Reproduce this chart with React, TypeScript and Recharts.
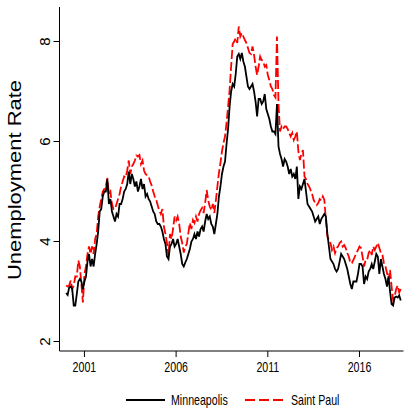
import React from "react";
import { LineChart, Line, XAxis, YAxis, Label } from "recharts";

const START_YEAR = 2000;

const minneapolis: number[] = [
  2.97, 2.93, 3.08, 3.1, 3.05, 2.72, 2.72, 2.95, 3.2, 3.25, 3.2, 3.05,
  3.2, 3.3, 3.6, 3.75, 3.5, 3.65, 3.5, 3.75, 3.95, 4.2, 4.6, 4.65,
  4.9, 5.0, 5.0, 5.25, 4.75, 4.85, 4.6, 4.5, 4.4, 4.55, 4.5, 4.75,
  4.75, 4.85, 5.0, 5.05, 5.15, 5.4, 5.15, 5.35, 5.25, 5.1, 5.2, 5.0,
  5.1, 5.25, 5.05, 5.15, 4.9, 4.95, 4.85, 4.8, 4.7, 4.6, 4.55, 4.4,
  4.35, 4.35, 4.3, 4.2, 4.05, 3.95, 3.7, 3.65, 3.9, 3.95, 4.05, 3.9,
  3.95, 4.05, 3.9, 3.75, 3.55, 3.5, 3.58, 3.65, 3.75, 3.85, 4.0, 4.05,
  4.15, 4.05, 4.2, 4.1, 4.25, 4.3, 4.2, 4.4, 4.55, 4.45, 4.5, 4.35,
  4.3, 4.15, 4.35, 4.55, 4.9, 5.1, 5.35, 5.5, 5.6, 5.95, 6.25, 6.7,
  7.0, 7.15, 7.1, 7.35, 7.7, 7.75, 7.65, 7.77, 7.6, 7.5, 7.3, 7.1,
  7.05, 7.1, 7.15, 7.0, 6.8, 6.5, 6.85, 6.85, 6.75, 6.8, 6.95, 6.65,
  6.55, 6.45, 6.3, 6.2, 6.2, 6.15, 6.75, 5.9, 5.75, 5.65, 5.5, 5.65,
  5.6, 5.5, 5.35, 5.45, 5.3, 5.35, 5.25, 5.5, 4.85, 5.1, 5.05, 5.15,
  5.25, 5.0, 4.75, 4.7, 4.65, 4.6, 4.5, 4.4, 4.45, 4.5, 4.35, 4.45,
  4.5, 4.55, 4.5, 4.15, 3.9, 3.65, 3.6, 3.55, 3.45, 3.4, 3.45, 3.6,
  3.75, 3.7, 3.65, 3.55, 3.45, 3.3, 3.15, 3.05, 3.2, 3.2, 3.2, 3.35,
  3.55, 3.55, 3.5, 3.15, 3.3, 3.25, 3.4, 3.45, 3.55, 3.45, 3.6, 3.75,
  3.7, 3.35, 3.65, 3.5, 3.35, 3.25, 3.1, 3.3, 3.0, 2.75, 2.72, 2.88,
  2.9, 2.88, 2.92, 2.82,
];

const saintPaul: number[] = [
  3.12, 3.1, 3.12, 3.22, 3.05, 3.12, 3.3, 3.3, 3.62, 3.5, 3.15, 2.78,
  3.35, 3.5, 3.75, 3.9, 3.75, 3.9, 3.75, 4.05, 4.15, 4.5, 4.7, 4.85,
  5.0, 5.05, 5.1, 5.27, 4.95, 5.0, 4.75, 4.65, 4.65, 4.75, 4.85, 4.95,
  5.1, 5.2, 5.3, 5.28, 5.42, 5.62, 5.35, 5.5, 5.55, 5.62, 5.72, 5.7,
  5.73, 5.55, 5.62, 5.42, 5.35, 5.32, 5.3, 5.2, 5.12, 5.0, 4.9, 4.83,
  4.72, 4.62, 4.55, 4.65, 4.3, 4.15, 3.97, 3.72, 4.15, 4.05, 4.25, 4.5,
  4.42, 4.5, 4.35, 4.1, 3.97, 3.78, 3.9, 3.95, 4.17, 4.37, 4.25, 4.43,
  4.37, 4.5, 4.4, 4.55, 4.62, 4.67, 4.57, 4.77, 5.03, 4.82, 4.7, 4.63,
  4.75, 4.57, 4.82, 5.1, 5.37, 5.57, 5.8, 5.97, 6.1, 6.37, 6.7, 7.03,
  7.5, 7.95, 8.0, 8.07, 7.97, 8.3, 8.1, 8.17, 8.1, 8.03, 7.97, 7.87,
  7.77, 7.75, 7.9, 7.73, 7.5, 7.33, 7.5, 7.7, 7.63, 7.6, 7.5, 7.53,
  7.33, 7.23, 7.1, 7.05, 6.93, 6.88, 8.1, 6.75, 6.2, 6.3, 6.25, 6.3,
  6.3, 6.25, 6.17, 6.1, 6.17, 6.03, 6.1, 6.2, 5.8, 5.63, 5.75, 5.83,
  5.3, 5.25, 5.15, 5.1, 5.03, 4.95, 4.83, 4.77, 4.73, 4.77, 4.85, 4.82,
  4.9, 4.83, 4.43, 4.1, 4.03, 3.97, 3.83, 3.9, 3.77, 3.87, 3.9, 3.97,
  4.0, 3.9, 3.93, 3.87, 3.77, 3.7, 3.57, 3.57, 3.63, 3.7, 3.77, 3.83,
  3.9, 3.87, 3.7, 3.5, 3.63, 3.63, 3.77, 3.83, 3.73, 3.9, 3.83, 3.9,
  3.97, 3.87, 3.77, 3.73, 3.57, 3.5, 3.37, 3.23, 3.43, 3.1, 2.83, 2.9,
  3.05, 3.12, 2.98, 3.05,
];

const xTicks: number[] = [2001, 2006, 2011, 2016];
const yTicks: number[] = [2, 4, 6, 8];
const seriesNames: string[] = ["Minneapolis", "Saint Paul"];

const data = minneapolis.map((v, i) => ({
  t: START_YEAR + i / 12,
  mpls: v,
  stp: saintPaul[i],
}));

const FONT = "'Liberation Sans', Arial, sans-serif";

const XTick = (props: any) => {
  const { x, y, payload } = props;
  return (
    <g transform={`translate(${x},${y + 12.7})`}>
      <text
        transform="scale(0.76,1)"
        textAnchor="middle"
        fontSize={14}
        fontFamily={FONT}
        fill="#000"
      >
        {payload.value}
      </text>
    </g>
  );
};

const YTick = (props: any) => {
  const { x, y, payload } = props;
  const bx = x - 1.5;
  return (
    <text
      x={bx}
      y={y}
      transform={`rotate(-90, ${bx}, ${y})`}
      textAnchor="middle"
      fontSize={15}
      fontFamily={FONT}
      fill="#000"
    >
      {payload.value}
    </text>
  );
};

const YLabel = () => (
  <text
    x={21}
    y={180}
    transform="rotate(-90, 21, 180)"
    textAnchor="middle"
    fontSize={18}
    fontFamily={FONT}
    textLength={200}
    lengthAdjust="spacingAndGlyphs"
    fill="#000"
  >
    Unemployment Rate
  </text>
);

export default function App() {
  return (
    <div style={{ position: "absolute", left: 0, top: 0, width: 404, height: 409, background: "#fff" }}>
      <LineChart
        width={404}
        height={409}
        data={data}
        margin={{ top: 7, right: 0.5, left: 0, bottom: 0 }}
      >
        <XAxis
          dataKey="t"
          type="number"
          domain={[1999.64, 2018.4]}
          ticks={xTicks}
          height={58}
          tick={<XTick />}
          tickSize={6}
          axisLine={{ stroke: "#000", strokeWidth: 1 }}
          tickLine={{ stroke: "#000", strokeWidth: 1 }}
          allowDataOverflow
        />
        <YAxis
          type="number"
          domain={[1.81, 8.69]}
          ticks={yTicks}
          width={59.5}
          tick={<YTick />}
          tickSize={6}
          axisLine={{ stroke: "#000", strokeWidth: 1 }}
          tickLine={{ stroke: "#000", strokeWidth: 1 }}
          allowDataOverflow
        >
          <Label content={<YLabel />} />
        </YAxis>
        <Line
          type="linear"
          dataKey="stp"
          name={seriesNames[1]}
          stroke="#ff0000"
          strokeWidth={1.8}
          strokeDasharray="9 3"
          dot={false}
          isAnimationActive={false}
        />
        <Line
          type="linear"
          dataKey="mpls"
          name={seriesNames[0]}
          stroke="#000"
          strokeWidth={1.8}
          dot={false}
          isAnimationActive={false}
        />
      </LineChart>
      <svg
        width={404}
        height={30}
        style={{ position: "absolute", left: 0, top: 385 }}
      >
        <line x1={126} x2={165} y1={15} y2={15} stroke="#000" strokeWidth={1.8} />
        <g transform="translate(171,20)">
          <text transform="scale(0.76,1)" fontSize={14} fontFamily={FONT} fill="#000">
            {seriesNames[0]}
          </text>
        </g>
        <line
          x1={245}
          x2={285}
          y1={15}
          y2={15}
          stroke="#ff0000"
          strokeWidth={1.8}
          strokeDasharray="10 4"
        />
        <g transform="translate(291,20)">
          <text transform="scale(0.76,1)" fontSize={14} fontFamily={FONT} fill="#000">
            {seriesNames[1]}
          </text>
        </g>
      </svg>
    </div>
  );
}
